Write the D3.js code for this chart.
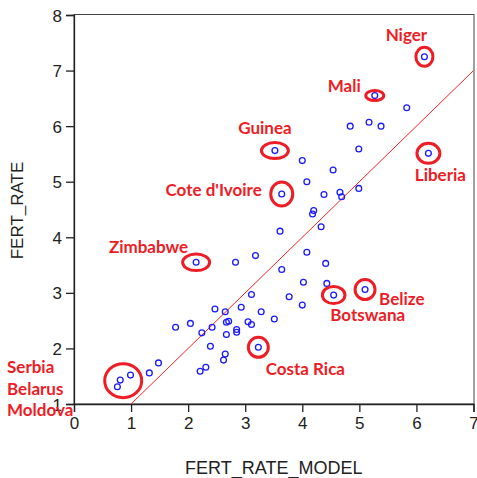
<!DOCTYPE html>
<html>
<head>
<meta charset="utf-8">
<script src="https://cdn.jsdelivr.net/npm/d3@7"></script>
<style>
  body { margin: 0; background: #fff; }
  svg { display: block; }
</style>
</head>
<body>
<div id="chart"></div>
<script>
// fitted model vs. observed fertility rate
const fertRateModel = [
    0.76, 0.81, 0.99, 1.32, 1.48, 1.78, 2.04, 2.24, 2.42, 2.47,
    2.39, 2.21, 2.31, 2.62, 2.65, 2.65, 2.67, 2.71, 2.67, 2.85,
    2.85, 2.93, 3.05, 3.11, 3.11, 3.28, 3.51, 3.23, 2.14, 2.83,
    3.18, 3.61, 3.64, 3.77, 4.00, 4.02, 4.08, 4.18, 4.20, 4.33,
    4.41, 4.43, 4.55, 5.10, 3.64, 4.08, 4.38, 4.66, 4.69, 4.99,
    4.54, 4.00, 3.52, 4.99, 4.84, 5.17, 5.38, 5.83, 5.27, 6.14,
    6.21
];
const fertRate = [
    1.31, 1.43, 1.52, 1.56, 1.74, 2.38, 2.45, 2.28, 2.38, 2.71,
    2.04, 1.59, 1.66, 1.79, 1.90, 2.66, 2.47, 2.49, 2.25, 2.34,
    2.29, 2.74, 2.48, 2.43, 2.97, 2.66, 2.53, 2.02, 3.55, 3.55,
    3.67, 4.11, 3.42, 2.93, 2.78, 3.19, 3.73, 4.42, 4.48, 4.19,
    3.53, 3.17, 2.96, 3.06, 4.78, 5.00, 4.77, 4.81, 4.73, 4.88,
    5.21, 5.38, 5.56, 5.59, 6.00, 6.07, 6.00, 6.33, 6.55, 7.25,
    5.51
];

// highlighted countries: index of the point they circle
const calloutNames = ['Niger', 'Mali', 'Guinea', "Cote d'Ivoire", 'Liberia',
    'Zimbabwe', 'Costa Rica', 'Botswana', 'Belize'];
const calloutIndex = [59, 58, 52, 44, 60, 28, 27, 42, 43];

// Serbia / Belarus / Moldova share one circle around the three lowest points
const groupNames = ['Serbia', 'Belarus', 'Moldova'];
const groupIndex = [0, 1, 2];

const xTicks = [0, 1, 2, 3, 4, 5, 6, 7];
const yTicks = [1, 2, 3, 4, 5, 6, 7, 8];
const fitLine = [1, 7];

const width = 477;
const height = 478;
const margins = { top: 14.5, right: 3, bottom: 74, left: 74 };

const red = '#ee1c25';
const labelFont = 'Lato, "Open Sans", sans-serif';
const axisFont = '"Liberation Sans", Arial, sans-serif';

const svg = d3.select('#chart')
    .append('svg')
    .attr('width', width)
    .attr('height', height);

const x = d3.scaleLinear()
    .domain([0, 7])
    .range([margins.left, width - margins.right - 0.5]);

const y = d3.scaleLinear()
    .domain([1, 8])
    .range([height - margins.bottom, margins.top + 0.5]);

// frame
svg.append('rect')
    .attr('x', x(0))
    .attr('y', margins.top)
    .attr('width', x(7) - x(0) + 0.5)
    .attr('height', y(1) - margins.top)
    .attr('fill', 'none')
    .attr('stroke', '#444')
    .attr('stroke-width', 1);

const bottomAxis = svg.append('g')
    .attr('transform', `translate(0,${y(1)})`)
    .call(d3.axisBottom(x).tickValues(xTicks).tickSize(8).tickPadding(5).tickFormat(d3.format('d')));

const leftAxis = svg.append('g')
    .attr('transform', `translate(${x(0)},0)`)
    .call(d3.axisLeft(y).tickValues(yTicks).tickSize(8).tickPadding(4).tickFormat(d3.format('d')));

[bottomAxis, leftAxis].forEach(a => {
    a.select('.domain').attr('stroke', '#222').attr('stroke-width', 1.3);
    a.selectAll('.tick line').attr('stroke', '#222').attr('stroke-width', 1.3);
    a.selectAll('.tick text')
        .attr('fill', '#222')
        .style('font-family', axisFont)
        .style('font-size', '17px');
});
leftAxis.selectAll('.tick text').attr('dy', '0.36em');

svg.append('text')
    .attr('x', (x(0) + x(7)) / 2)
    .attr('y', 474)
    .attr('text-anchor', 'middle')
    .attr('fill', '#222')
    .style('font-family', axisFont)
    .style('font-size', '18px')
    .text('FERT_RATE_MODEL');

svg.append('text')
    .attr('transform', `translate(23,${(y(1) + y(8)) / 2 + 1}) rotate(-90)`)
    .attr('text-anchor', 'middle')
    .attr('fill', '#222')
    .style('font-family', axisFont)
    .style('font-size', '17px')
    .text('FERT_RATE');

// fitted line
svg.append('line')
    .attr('x1', x(fitLine[0]))
    .attr('y1', y(fitLine[0]))
    .attr('x2', x(fitLine[1]))
    .attr('y2', y(fitLine[1]))
    .attr('stroke', '#ff2020')
    .attr('stroke-width', 1);

// points
svg.append('g')
    .selectAll('circle')
    .data(d3.range(fertRate.length))
    .join('circle')
    .attr('cx', i => x(fertRateModel[i]))
    .attr('cy', i => y(fertRate[i]))
    .attr('r', 2.9)
    .attr('fill', 'none')
    .attr('stroke', '#1a1aff')
    .attr('stroke-width', 1.3);

// callout ellipses
const ellipseSize = {
    'Niger': [8.5, 9.5], 'Mali': [9, 5], 'Guinea': [13.5, 8], "Cote d'Ivoire": [11, 12],
    'Liberia': [11.5, 10], 'Zimbabwe': [13.5, 8.3], 'Costa Rica': [10, 10],
    'Botswana': [11.3, 8.5], 'Belize': [10, 10]
};
const labelOffset = {
    'Niger': [-18, -16, 'middle'], 'Mali': [-14, -4, 'end'], 'Guinea': [-10, -17, 'middle'],
    "Cote d'Ivoire": [-20, 2, 'end'], 'Liberia': [12, 28, 'middle'], 'Zimbabwe': [-8, -9, 'end'],
    'Costa Rica': [47, 28, 'middle'], 'Botswana': [34, 26, 'middle'], 'Belize': [14, 15, 'start']
};

const callouts = svg.append('g');
calloutNames.forEach((name, k) => {
    const i = calloutIndex[k];
    const cx = x(fertRateModel[i]);
    const cy = y(fertRate[i]);
    callouts.append('ellipse')
        .attr('cx', cx)
        .attr('cy', cy)
        .attr('rx', ellipseSize[name][0])
        .attr('ry', ellipseSize[name][1])
        .attr('fill', 'none')
        .attr('stroke', red)
        .attr('stroke-width', 3);
    const off = labelOffset[name];
    callouts.append('text')
        .attr('x', cx + off[0])
        .attr('y', cy + off[1])
        .attr('text-anchor', off[2])
        .attr('fill', red)
        .style('font-family', labelFont)
        .style('font-weight', 'bold')
        .style('font-size', '17px')
        .text(name);
});

// group circle around the lowest three
const gx = d3.mean(groupIndex, i => x(fertRateModel[i]));
const gy = d3.mean(groupIndex, i => y(fertRate[i]));
callouts.append('ellipse')
    .attr('cx', gx + 0.5)
    .attr('cy', gy)
    .attr('rx', 18.5)
    .attr('ry', 17)
    .attr('fill', 'none')
    .attr('stroke', red)
    .attr('stroke-width', 3);

callouts.selectAll('text.group')
    .data(groupNames)
    .join('text')
    .attr('class', 'group')
    .attr('x', 7)
    .attr('y', (_, i) => 373 + i * 21.5)
    .attr('fill', red)
    .style('font-family', labelFont)
    .style('font-weight', 'bold')
    .style('font-size', '17px')
    .text(d => d);
</script>
</body>
</html>
